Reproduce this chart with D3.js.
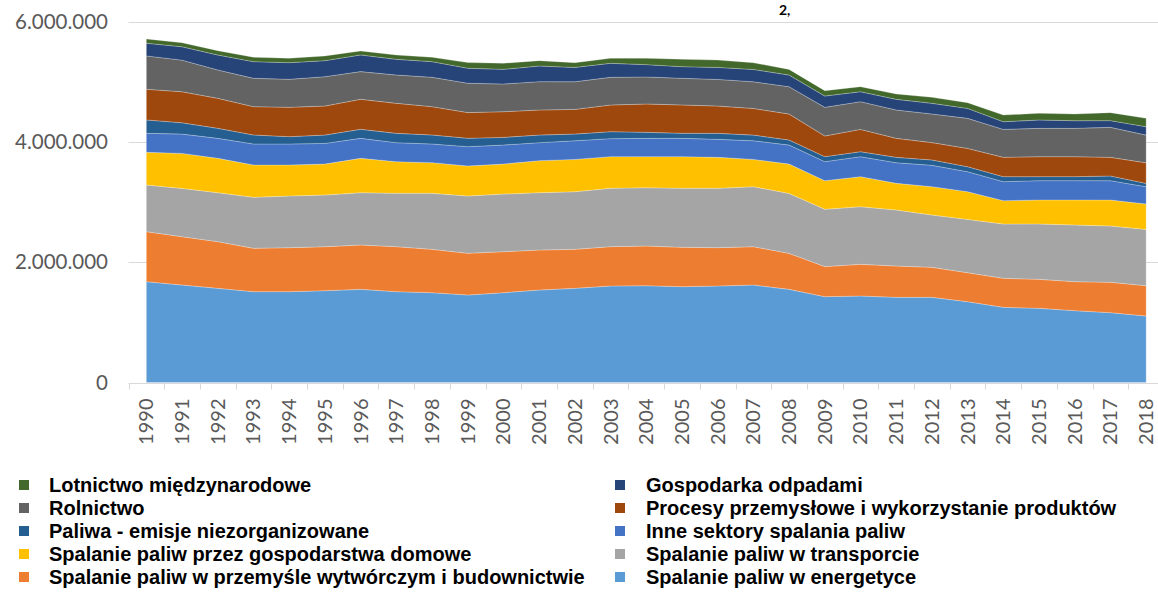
<!DOCTYPE html>
<html>
<head>
<meta charset="utf-8">
<script src="https://cdn.jsdelivr.net/npm/d3@7"></script>
<style>
  body { margin: 0; background: #fff; }
  svg { display: block; }
</style>
</head>
<body>
<svg id="chart" width="1158" height="605"></svg>
<script>
const years = ['1990','1991','1992','1993','1994','1995','1996','1997','1998','1999',
  '2000','2001','2002','2003','2004','2005','2006','2007','2008','2009',
  '2010','2011','2012','2013','2014','2015','2016','2017','2018'];

// values, bottom layer first
const energetyka = [1676000,1620000,1565000,1510000,1510000,1526000,1548000,1510000,1493000,1454000,
  1493000,1537000,1565000,1604000,1609000,1593000,1604000,1620000,1548000,1427000,
  1438000,1415000,1415000,1343000,1249000,1233000,1194000,1161000,1105000];
const przemysl = [831000,803000,776000,720000,731000,731000,737000,748000,720000,693000,
  681000,665000,648000,654000,659000,654000,637000,637000,598000,499000,
  526000,521000,499000,482000,482000,482000,482000,504000,504000];
const transport = [776000,803000,814000,848000,859000,859000,870000,886000,931000,953000,
  958000,953000,958000,970000,970000,981000,986000,997000,997000,953000,
  958000,931000,870000,886000,903000,920000,942000,936000,936000];
const gospodarstwa = [543000,582000,571000,537000,515000,515000,571000,526000,510000,499000,
  499000,532000,537000,526000,515000,526000,515000,454000,488000,476000,
  499000,443000,471000,460000,388000,399000,416000,432000,421000];
const inneSektory = [316000,321000,332000,349000,349000,343000,332000,316000,310000,321000,
  316000,299000,310000,299000,305000,305000,299000,310000,316000,316000,
  332000,343000,355000,332000,316000,321000,321000,321000,288000];
const paliwa = [222000,188000,166000,150000,122000,139000,150000,155000,150000,139000,
  127000,127000,111000,116000,100000,83000,100000,94000,83000,83000,
  83000,89000,89000,83000,83000,66000,66000,78000,55000];
const procesy = [510000,515000,499000,471000,488000,482000,499000,499000,471000,427000,
  427000,416000,410000,443000,471000,471000,454000,443000,432000,343000,
  371000,316000,288000,305000,321000,332000,332000,310000,343000];
const rolnictwo = [554000,526000,471000,471000,465000,488000,460000,471000,488000,488000,
  460000,471000,460000,460000,449000,443000,443000,443000,454000,476000,
  460000,471000,476000,499000,465000,471000,471000,499000,460000];
const odpady = [211000,222000,249000,277000,277000,266000,277000,260000,260000,249000,
  244000,260000,238000,233000,205000,194000,199000,205000,194000,188000,
  166000,177000,177000,166000,127000,139000,127000,111000,139000];
const lotnictwo = [72000,66000,72000,72000,72000,78000,66000,72000,72000,94000,
  100000,89000,78000,83000,105000,122000,122000,111000,94000,89000,
  83000,89000,100000,94000,111000,111000,111000,133000,139000];

const seriesKeys = ['energetyka','przemysl','transport','gospodarstwa','inneSektory',
  'paliwa','procesy','rolnictwo','odpady','lotnictwo'];
const seriesValues = [energetyka, przemysl, transport, gospodarstwa, inneSektory,
  paliwa, procesy, rolnictwo, odpady, lotnictwo];
const seriesLabels = {
  energetyka: 'Spalanie paliw w energetyce',
  przemysl: 'Spalanie paliw w przemyśle wytwórczym i budownictwie',
  transport: 'Spalanie paliw w transporcie',
  gospodarstwa: 'Spalanie paliw przez gospodarstwa domowe',
  inneSektory: 'Inne sektory spalania paliw',
  paliwa: 'Paliwa - emisje niezorganizowane',
  procesy: 'Procesy przemysłowe i wykorzystanie produktów',
  rolnictwo: 'Rolnictwo',
  odpady: 'Gospodarka odpadami',
  lotnictwo: 'Lotnictwo międzynarodowe'
};
const seriesColors = {
  energetyka: '#5b9bd5', przemysl: '#ed7d31', transport: '#a5a5a5', gospodarstwa: '#ffc000',
  inneSektory: '#4472c4', paliwa: '#255e91', procesy: '#9e480e', rolnictwo: '#636363',
  odpady: '#264478', lotnictwo: '#43682b'
};
const legendLeft = ['lotnictwo','rolnictwo','paliwa','gospodarstwa','przemysl'];
const legendRight = ['odpady','procesy','inneSektory','transport','energetyka'];
const yTicks = [0, 2000000, 4000000, 6000000];

const W = 1158;
const svg = d3.select('#chart');

const rows = years.map((yr, i) => {
  const r = { year: yr };
  seriesKeys.forEach((k, j) => { r[k] = seriesValues[j][i]; });
  return r;
});
const stacked = d3.stack().keys(seriesKeys)(rows);

const x = d3.scaleBand().domain(years).range([128.5, 1164]).padding(0);
const y = d3.scaleLinear().domain([0, 6000000]).range([382.5, 21.5]);
const cx = d => x(d) + x.bandwidth() / 2;

const plFormat = d3.formatLocale({ decimal: ',', thousands: '.', grouping: [3], currency: ['', ''] }).format(',');

// gridlines
svg.append('g')
  .attr('class', 'grid')
  .selectAll('line')
  .data(yTicks.filter(d => d > 0))
  .join('line')
  .attr('x1', 128.5).attr('x2', W)
  .attr('y1', d => Math.round(y(d)) + 0.5).attr('y2', d => Math.round(y(d)) + 0.5)
  .attr('stroke', '#d9d9d9').attr('stroke-width', 1);

// y labels
svg.append('g')
  .selectAll('text')
  .data(yTicks)
  .join('text')
  .attr('x', 108)
  .attr('y', d => y(d))
  .attr('dy', '0.35em')
  .attr('text-anchor', 'end')
  .attr('fill', '#595959')
  .style('font', '20.5px Lato, "Open Sans", sans-serif')
  .text(d => plFormat(d));

// areas
const area = d3.area()
  .x(d => cx(d.data.year))
  .y0(d => y(d[0]))
  .y1(d => y(d[1]));

svg.append('g')
  .selectAll('path')
  .data(stacked)
  .join('path')
  .attr('d', area)
  .attr('fill', d => seriesColors[d.key])
  .attr('stroke', 'rgba(255,255,255,0.3)')
  .attr('stroke-width', 0.8);

// x axis line + ticks between categories
const axisY = Math.round(y(0)) + 0.5;
const xAxis = svg.append('g');
xAxis.append('line')
  .attr('x1', 128.5).attr('x2', W)
  .attr('y1', axisY).attr('y2', axisY)
  .attr('stroke', '#d9d9d9');
xAxis.selectAll('line.tick')
  .data(years)
  .join('line')
  .attr('class', 'tick')
  .attr('x1', d => Math.round(x(d)) + 0.5).attr('x2', d => Math.round(x(d)) + 0.5)
  .attr('y1', axisY).attr('y2', axisY + 6)
  .attr('stroke', '#d9d9d9');
xAxis.selectAll('text')
  .data(years)
  .join('text')
  .attr('transform', d => `translate(${cx(d)},${axisY + 15}) rotate(-90)`)
  .attr('dy', '0.35em')
  .attr('text-anchor', 'end')
  .attr('fill', '#595959')
  .style('font', '20px Lato, "Open Sans", sans-serif')
  .text(d => d);

// legend
function drawLegend(keys, sqX, txtX) {
  const g = svg.append('g');
  const item = g.selectAll('g')
    .data(keys)
    .join('g')
    .attr('transform', (d, i) => `translate(0,${485 + i * 23})`);
  item.append('rect')
    .attr('x', sqX).attr('y', -5)
    .attr('width', 10).attr('height', 10)
    .attr('fill', d => seriesColors[d]);
  item.append('text')
    .attr('x', txtX)
    .attr('dy', '0.35em')
    .attr('fill', '#000')
    .style('font', 'bold 20px "Liberation Sans", Arial, sans-serif')
    .text(d => seriesLabels[d]);
}
drawLegend(legendLeft, 19, 49);
drawLegend(legendRight, 615, 646);

// fragment of the title above the chart (only its tail is in frame)
svg.append('text')
  .attr('x', 779).attr('y', 15)
  .attr('fill', '#000')
  .style('font', 'bold 14px Lato, sans-serif')
  .text('2,');
</script>
</body>
</html>
